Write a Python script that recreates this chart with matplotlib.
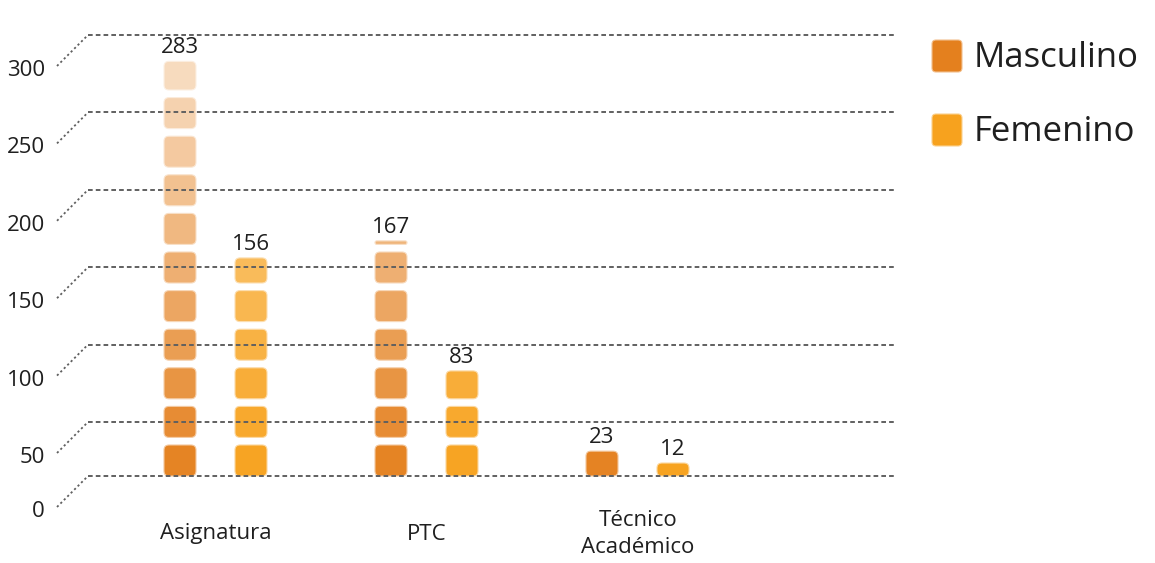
import numpy as np
import matplotlib
matplotlib.use("Agg")
import matplotlib.pyplot as plt
from matplotlib.patches import FancyBboxPatch
from matplotlib.lines import Line2D
from matplotlib.transforms import IdentityTransform
from matplotlib.colors import to_rgb

# ---------------- data ----------------
categories = ["Asignatura", "PTC", "Técnico\nAcadémico"]
series_names = ["Masculino", "Femenino"]
masculino = [283, 167, 23]
femenino = [156, 83, 12]
y_ticks = [0, 50, 100, 150, 200, 250, 300]
y_tick_labels = ["0", "50", "100", "150", "200", "250", "300"]

# The reference axis is irregular: the 0-50 band is narrower than the rest.
axis_break_values = [0, 50, 300]
axis_break_heights = [0, 54, 441]   # drawn height (px) above the baseline

# ---------------- style ----------------
plt.rcParams['font.family'] = ['Open Sans', 'DejaVu Sans']
TEXT = "#1f1f1f"
GRID = "#606060"
colors = ["#E4801E", "#F7A21E"]
fade = [0.00178, 0.0013]        # lightening per px of height
W, H = 1155, 563
DPI = 100
FS = 16

v0, v1, v2 = axis_break_values
h0, h1, h2 = axis_break_heights
s_lo = (h1 - h0) / (v1 - v0)
s_hi = (h2 - h1) / (v2 - v1)


def forward(v):
    v = np.asarray(v, dtype=float)
    return np.where(v < v1, h0 + (v - v0) * s_lo, h1 + (v - v1) * s_hi)


def inverse(p):
    p = np.asarray(p, dtype=float)
    return np.where(p < h1, v0 + (p - h0) / s_lo, v1 + (p - h1) / s_hi)


fig = plt.figure(figsize=(W / DPI, H / DPI), dpi=DPI)
fig.patch.set_facecolor("white")
ax = fig.add_axes([0, 0, 1, 1])
ax.set_yscale('function', functions=(forward, inverse))

group_x0, group_step = 216, 211     # pixel layout of the category slots
baseline_px = 87                    # baseline height from figure bottom
ax.set_xlim(-group_x0 / group_step, (W - group_x0) / group_step)
ax.set_ylim(float(inverse(-baseline_px)), float(inverse(H - baseline_px)))
ax.axis('off')

ID = IdentityTransform()


def disp(x, v):
    return ax.transData.transform((x, v))


def blend(c, a):
    r, g, b = to_rgb(c)
    return (1 - a + a * r, 1 - a + a * g, 1 - a + a * b)


# ---------------- bars (stacks of rounded blocks) ----------------
period, block_h, block_w = 38.6, 31.0, 32.0
offsets = [-36, 35]
series_values = [masculino, femenino]
for s, vals in enumerate(series_values):
    for i, val in enumerate(vals):
        cx = disp(i, 0)[0] + offsets[s]
        base = disp(i, 0)[1]
        top = disp(i, val)[1]
        hgt = top - base
        k = 0
        while k * period < hgt - 1.5:
            b = base + k * period
            t = min(b + block_h, top)
            hc = (b + t) / 2 - base
            a = max(0.0, min(1.0, 1.0 - fade[s] * hc))
            fc = blend(colors[s], a)
            ec = blend(colors[s], a * 0.45)
            p = FancyBboxPatch((cx - block_w / 2, b), block_w, t - b,
                               boxstyle="round,pad=0,rounding_size=%.1f" % min(5, (t - b) / 2),
                               transform=ID, facecolor=fc, edgecolor=ec,
                               linewidth=0.8, zorder=2)
            ax.add_patch(p)
            k += 1
        ax.text(cx, top + 8, str(val), transform=ID, ha='center', va='baseline',
                fontsize=FS, color=TEXT, zorder=4)

# ---------------- gridlines with perspective ticks ----------------
dash = (0, (2.4, 1.6))
for v, lab in zip(y_ticks, y_tick_labels):
    gy = disp(0, v)[1]
    ax.add_line(Line2D([88, 895], [gy, gy], transform=ID, color=GRID,
                       lw=1.4, linestyle=dash, zorder=3))
    ax.add_line(Line2D([57, 88], [gy - 31, gy], transform=ID, color=GRID,
                       lw=1.3, linestyle=(0, (1.2, 1.5)), zorder=3))
    ax.text(45, gy - 41, lab, transform=ID, ha='right', va='baseline',
            fontsize=FS, color=TEXT)

# ---------------- category labels ----------------
for i, cat in enumerate(categories):
    x = disp(i, 0)[0]
    ax.text(x, 29, cat, transform=ID, ha='center', va='center',
            multialignment='center', fontsize=FS, color=TEXT, linespacing=1.4)

# ---------------- legend ----------------
leg_y = [491, 417]
leg_base = [496, 422]
for s, name in enumerate(series_names):
    ax.add_patch(FancyBboxPatch((932, leg_y[s]), 30, 32,
                                boxstyle="round,pad=0,rounding_size=4",
                                transform=ID, facecolor=colors[s],
                                edgecolor=blend(colors[s], 0.5), linewidth=0.8))
    ax.text(974, leg_base[s], name, transform=ID, ha='left', va='baseline',
            fontsize=25, color=TEXT)

fig.savefig("out.png", dpi=DPI, facecolor="white")
